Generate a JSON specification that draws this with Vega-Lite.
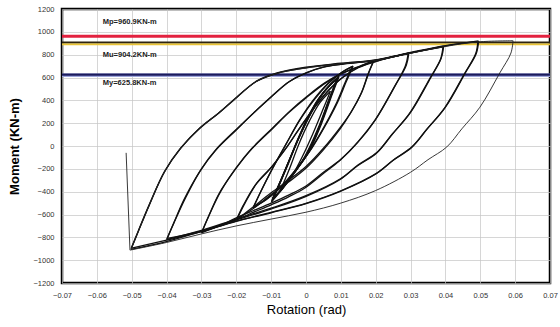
{
"$schema":"https://vega.github.io/schema/vega-lite/v6.json",
"autosize":{"type":"none"},
"padding":{"left":62,"top":9,"right":10,"bottom":44},
"width":488,"height":274,
"background":"white",
"config":{"font":"Liberation Sans","view":{"stroke":"#000","strokeWidth":2.5}},
"datasets":{
"curves":[
{"c":"c1a","x":-0.0075,"y":-400},{"c":"c1a","x":-0.005,"y":-220},{"c":"c1a","x":-0.002,"y":20},{"c":"c1a","x":0.001,"y":220},{"c":"c1a","x":0.004,"y":380},{"c":"c1a","x":0.007,"y":480},
{"c":"c1d","x":0.007,"y":480},{"c":"c1d","x":0.005,"y":330},{"c":"c1d","x":0.002,"y":110},{"c":"c1d","x":-0.001,"y":-90},{"c":"c1d","x":-0.004,"y":-260},{"c":"c1d","x":-0.0075,"y":-400},
{"c":"c2a","x":-0.0098,"y":-480},{"c":"c2a","x":-0.008,"y":-360},{"c":"c2a","x":-0.005,"y":-150},{"c":"c2a","x":-0.002,"y":80},{"c":"c2a","x":0.001,"y":280},{"c":"c2a","x":0.004,"y":430},{"c":"c2a","x":0.007,"y":540},{"c":"c2a","x":0.0095,"y":610},
{"c":"c2d","x":0.0095,"y":610},{"c":"c2d","x":0.0075,"y":450},{"c":"c2d","x":0.0045,"y":200},{"c":"c2d","x":0.001,"y":-40},{"c":"c2d","x":-0.003,"y":-220},{"c":"c2d","x":-0.0065,"y":-360},{"c":"c2d","x":-0.0098,"y":-480},
{"c":"c3a","x":-0.0097,"y":-470},{"c":"c3a","x":-0.0075,"y":-320},{"c":"c3a","x":-0.0045,"y":-100},{"c":"c3a","x":-0.0015,"y":110},{"c":"c3a","x":0.0015,"y":300},{"c":"c3a","x":0.0045,"y":450},{"c":"c3a","x":0.0072,"y":545},{"c":"c3a","x":0.0092,"y":600},
{"c":"c3d","x":0.0092,"y":600},{"c":"c3d","x":0.007,"y":430},{"c":"c3d","x":0.004,"y":180},{"c":"c3d","x":0.0005,"y":-60},{"c":"c3d","x":-0.0035,"y":-240},{"c":"c3d","x":-0.007,"y":-380},{"c":"c3d","x":-0.0097,"y":-470},
{"c":"c4a","x":-0.0099,"y":-490},{"c":"c4a","x":-0.0082,"y":-380},{"c":"c4a","x":-0.0055,"y":-180},{"c":"c4a","x":-0.0025,"y":50},{"c":"c4a","x":0.0005,"y":250},{"c":"c4a","x":0.0035,"y":410},{"c":"c4a","x":0.0065,"y":520},{"c":"c4a","x":0.009,"y":590},
{"c":"c4d","x":0.009,"y":590},{"c":"c4d","x":0.0068,"y":420},{"c":"c4d","x":0.0038,"y":170},{"c":"c4d","x":0,"y":-80},{"c":"c4d","x":-0.004,"y":-260},{"c":"c4d","x":-0.0072,"y":-390},{"c":"c4d","x":-0.0099,"y":-490},
{"c":"c16a","x":-0.0096,"y":-460},{"c":"c16a","x":-0.0078,"y":-340},{"c":"c16a","x":-0.005,"y":-140},{"c":"c16a","x":-0.002,"y":70},{"c":"c16a","x":0.001,"y":260},{"c":"c16a","x":0.004,"y":420},{"c":"c16a","x":0.0068,"y":530},{"c":"c16a","x":0.0088,"y":585},
{"c":"c16d","x":0.0088,"y":585},{"c":"c16d","x":0.0066,"y":410},{"c":"c16d","x":0.0034,"y":150},{"c":"c16d","x":-0.0003,"y":-90},{"c":"c16d","x":-0.0042,"y":-270},{"c":"c16d","x":-0.0074,"y":-400},{"c":"c16d","x":-0.0096,"y":-460},
{"c":"c17a","x":-0.0094,"y":-455},{"c":"c17a","x":-0.0072,"y":-300},{"c":"c17a","x":-0.0042,"y":-80},{"c":"c17a","x":-0.0012,"y":130},{"c":"c17a","x":0.0018,"y":310},{"c":"c17a","x":0.0048,"y":460},{"c":"c17a","x":0.0074,"y":550},{"c":"c17a","x":0.0093,"y":605},
{"c":"c17d","x":0.0093,"y":605},{"c":"c17d","x":0.0072,"y":440},{"c":"c17d","x":0.0042,"y":190},{"c":"c17d","x":0.0008,"y":-50},{"c":"c17d","x":-0.0032,"y":-230},{"c":"c17d","x":-0.0068,"y":-370},{"c":"c17d","x":-0.0094,"y":-455},
{"c":"c5a","x":-0.0152,"y":-543},{"c":"c5a","x":-0.013,"y":-400},{"c":"c5a","x":-0.01,"y":-220},{"c":"c5a","x":-0.006,"y":0},{"c":"c5a","x":-0.002,"y":220},{"c":"c5a","x":0.002,"y":400},{"c":"c5a","x":0.006,"y":540},{"c":"c5a","x":0.01,"y":640},{"c":"c5a","x":0.0135,"y":700},
{"c":"c5d","x":0.0135,"y":700},{"c":"c5d","x":0.0115,"y":560},{"c":"c5d","x":0.009,"y":380},{"c":"c5d","x":0.005,"y":150},{"c":"c5d","x":0.001,"y":-50},{"c":"c5d","x":-0.003,"y":-210},{"c":"c5d","x":-0.007,"y":-350},{"c":"c5d","x":-0.011,"y":-460},{"c":"c5d","x":-0.0152,"y":-543},
{"c":"c6a","x":-0.015,"y":-530},{"c":"c6a","x":-0.0125,"y":-370},{"c":"c6a","x":-0.0095,"y":-190},{"c":"c6a","x":-0.0055,"y":30},{"c":"c6a","x":-0.0015,"y":240},{"c":"c6a","x":0.0025,"y":410},{"c":"c6a","x":0.0065,"y":550},{"c":"c6a","x":0.0105,"y":650},{"c":"c6a","x":0.0132,"y":695},
{"c":"c6d","x":0.0132,"y":695},{"c":"c6d","x":0.011,"y":540},{"c":"c6d","x":0.0085,"y":360},{"c":"c6d","x":0.0045,"y":130},{"c":"c6d","x":0.0005,"y":-70},{"c":"c6d","x":-0.0035,"y":-230},{"c":"c6d","x":-0.0075,"y":-370},{"c":"c6d","x":-0.0115,"y":-470},{"c":"c6d","x":-0.015,"y":-530},
{"c":"c7a","x":-0.02,"y":-650},{"c":"c7a","x":-0.018,"y":-520},{"c":"c7a","x":-0.0145,"y":-340},{"c":"c7a","x":-0.0103,"y":-200},{"c":"c7a","x":-0.006,"y":-30},{"c":"c7a","x":-0.002,"y":150},{"c":"c7a","x":0.002,"y":320},{"c":"c7a","x":0.006,"y":470},{"c":"c7a","x":0.01,"y":590},{"c":"c7a","x":0.015,"y":690},{"c":"c7a","x":0.0195,"y":748},
{"c":"c7d","x":0.0195,"y":748},{"c":"c7d","x":0.018,"y":640},{"c":"c7d","x":0.016,"y":470},{"c":"c7d","x":0.013,"y":300},{"c":"c7d","x":0.01,"y":170},{"c":"c7d","x":0.005,"y":-20},{"c":"c7d","x":0,"y":-180},{"c":"c7d","x":-0.005,"y":-300},{"c":"c7d","x":-0.01,"y":-410},{"c":"c7d","x":-0.015,"y":-530},{"c":"c7d","x":-0.02,"y":-650},
{"c":"c8a","x":-0.0198,"y":-640},{"c":"c8a","x":-0.0175,"y":-500},{"c":"c8a","x":-0.014,"y":-320},{"c":"c8a","x":-0.0098,"y":-180},{"c":"c8a","x":-0.0055,"y":-10},{"c":"c8a","x":-0.0015,"y":170},{"c":"c8a","x":0.0025,"y":340},{"c":"c8a","x":0.0065,"y":490},{"c":"c8a","x":0.0105,"y":600},{"c":"c8a","x":0.015,"y":685},{"c":"c8a","x":0.0193,"y":740},
{"c":"c8d","x":0.0193,"y":740},{"c":"c8d","x":0.0178,"y":630},{"c":"c8d","x":0.0158,"y":460},{"c":"c8d","x":0.0128,"y":290},{"c":"c8d","x":0.0098,"y":150},{"c":"c8d","x":0.0048,"y":-40},{"c":"c8d","x":-0.0002,"y":-200},{"c":"c8d","x":-0.0052,"y":-320},{"c":"c8d","x":-0.0102,"y":-430},{"c":"c8d","x":-0.015,"y":-545},{"c":"c8d","x":-0.0198,"y":-640},
{"c":"c9a","x":-0.03,"y":-760},{"c":"c9a","x":-0.028,"y":-620},{"c":"c9a","x":-0.025,"y":-420},{"c":"c9a","x":-0.0204,"y":-210},{"c":"c9a","x":-0.016,"y":-40},{"c":"c9a","x":-0.01,"y":140},{"c":"c9a","x":-0.005,"y":290},{"c":"c9a","x":0,"y":420},{"c":"c9a","x":0.005,"y":540},{"c":"c9a","x":0.01,"y":630},{"c":"c9a","x":0.015,"y":690},{"c":"c9a","x":0.02,"y":740},{"c":"c9a","x":0.025,"y":780},{"c":"c9a","x":0.0295,"y":815},
{"c":"c9d","x":0.0295,"y":815},{"c":"c9d","x":0.0288,"y":710},{"c":"c9d","x":0.0257,"y":535},{"c":"c9d","x":0.02,"y":235},{"c":"c9d","x":0.015,"y":40},{"c":"c9d","x":0.01,"y":-116},{"c":"c9d","x":0.005,"y":-230},{"c":"c9d","x":0,"y":-350},{"c":"c9d","x":-0.005,"y":-430},{"c":"c9d","x":-0.01,"y":-500},{"c":"c9d","x":-0.015,"y":-565},{"c":"c9d","x":-0.02,"y":-630},{"c":"c9d","x":-0.025,"y":-700},{"c":"c9d","x":-0.03,"y":-760},
{"c":"c10a","x":-0.0298,"y":-750},{"c":"c10a","x":-0.0277,"y":-600},{"c":"c10a","x":-0.0245,"y":-400},{"c":"c10a","x":-0.02,"y":-190},{"c":"c10a","x":-0.0155,"y":-20},{"c":"c10a","x":-0.0095,"y":160},{"c":"c10a","x":-0.0045,"y":310},{"c":"c10a","x":0.0005,"y":440},{"c":"c10a","x":0.0055,"y":555},{"c":"c10a","x":0.0105,"y":640},{"c":"c10a","x":0.0155,"y":700},{"c":"c10a","x":0.0205,"y":745},{"c":"c10a","x":0.025,"y":785},{"c":"c10a","x":0.0293,"y":805},
{"c":"c10d","x":0.0293,"y":805},{"c":"c10d","x":0.0285,"y":700},{"c":"c10d","x":0.0254,"y":520},{"c":"c10d","x":0.0198,"y":225},{"c":"c10d","x":0.0148,"y":30},{"c":"c10d","x":0.0098,"y":-125},{"c":"c10d","x":0.0048,"y":-245},{"c":"c10d","x":-0.0002,"y":-365},{"c":"c10d","x":-0.005,"y":-445},{"c":"c10d","x":-0.01,"y":-515},{"c":"c10d","x":-0.015,"y":-580},{"c":"c10d","x":-0.02,"y":-645},{"c":"c10d","x":-0.025,"y":-705},{"c":"c10d","x":-0.0298,"y":-750},
{"c":"c11a","x":-0.04,"y":-820},{"c":"c11a","x":-0.038,"y":-680},{"c":"c11a","x":-0.035,"y":-470},{"c":"c11a","x":-0.0304,"y":-220},{"c":"c11a","x":-0.026,"y":-40},{"c":"c11a","x":-0.02,"y":140},{"c":"c11a","x":-0.015,"y":290},{"c":"c11a","x":-0.01,"y":430},{"c":"c11a","x":-0.005,"y":560},{"c":"c11a","x":0,"y":640},{"c":"c11a","x":0.005,"y":690},{"c":"c11a","x":0.01,"y":715},{"c":"c11a","x":0.02,"y":750},{"c":"c11a","x":0.03,"y":815},{"c":"c11a","x":0.0395,"y":875},
{"c":"c11d","x":0.0395,"y":875},{"c":"c11d","x":0.0388,"y":770},{"c":"c11d","x":0.0357,"y":595},{"c":"c11d","x":0.03,"y":295},{"c":"c11d","x":0.0248,"y":105},{"c":"c11d","x":0.0205,"y":-53},{"c":"c11d","x":0.015,"y":-165},{"c":"c11d","x":0.01,"y":-285},{"c":"c11d","x":0,"y":-435},{"c":"c11d","x":-0.01,"y":-545},{"c":"c11d","x":-0.02,"y":-640},{"c":"c11d","x":-0.03,"y":-740},{"c":"c11d","x":-0.04,"y":-820},
{"c":"c12a","x":-0.0398,"y":-810},{"c":"c12a","x":-0.0377,"y":-660},{"c":"c12a","x":-0.0345,"y":-450},{"c":"c12a","x":-0.03,"y":-200},{"c":"c12a","x":-0.0255,"y":-20},{"c":"c12a","x":-0.0195,"y":160},{"c":"c12a","x":-0.0145,"y":305},{"c":"c12a","x":-0.0095,"y":445},{"c":"c12a","x":-0.0045,"y":570},{"c":"c12a","x":0.0005,"y":645},{"c":"c12a","x":0.0055,"y":695},{"c":"c12a","x":0.0105,"y":718},{"c":"c12a","x":0.0205,"y":752},{"c":"c12a","x":0.0305,"y":818},{"c":"c12a","x":0.0393,"y":868},
{"c":"c12d","x":0.0393,"y":868},{"c":"c12d","x":0.0386,"y":760},{"c":"c12d","x":0.0354,"y":585},{"c":"c12d","x":0.0297,"y":285},{"c":"c12d","x":0.0245,"y":95},{"c":"c12d","x":0.0202,"y":-63},{"c":"c12d","x":0.0147,"y":-175},{"c":"c12d","x":0.0097,"y":-295},{"c":"c12d","x":-0.0003,"y":-445},{"c":"c12d","x":-0.0103,"y":-555},{"c":"c12d","x":-0.02,"y":-648},{"c":"c12d","x":-0.03,"y":-745},{"c":"c12d","x":-0.0398,"y":-810},
{"c":"c13a","x":-0.05,"y":-890},{"c":"c13a","x":-0.048,"y":-740},{"c":"c13a","x":-0.045,"y":-520},{"c":"c13a","x":-0.0405,"y":-220},{"c":"c13a","x":-0.036,"y":-20},{"c":"c13a","x":-0.0304,"y":160},{"c":"c13a","x":-0.025,"y":290},{"c":"c13a","x":-0.0209,"y":400},{"c":"c13a","x":-0.0141,"y":570},{"c":"c13a","x":-0.0083,"y":640},{"c":"c13a","x":0,"y":690},{"c":"c13a","x":0.01,"y":725},{"c":"c13a","x":0.02,"y":755},{"c":"c13a","x":0.03,"y":820},{"c":"c13a","x":0.04,"y":880},{"c":"c13a","x":0.0493,"y":915},
{"c":"c13d","x":0.0493,"y":915},{"c":"c13d","x":0.0487,"y":810},{"c":"c13d","x":0.0455,"y":635},{"c":"c13d","x":0.0398,"y":335},{"c":"c13d","x":0.0346,"y":145},{"c":"c13d","x":0.0303,"y":-13},{"c":"c13d","x":0.025,"y":-125},{"c":"c13d","x":0.02,"y":-245},{"c":"c13d","x":0.01,"y":-395},{"c":"c13d","x":0,"y":-505},{"c":"c13d","x":-0.01,"y":-585},{"c":"c13d","x":-0.02,"y":-660},{"c":"c13d","x":-0.03,"y":-750},{"c":"c13d","x":-0.04,"y":-825},{"c":"c13d","x":-0.05,"y":-895},
{"c":"c14a","x":-0.0502,"y":-900},{"c":"c14a","x":-0.0482,"y":-750},{"c":"c14a","x":-0.0452,"y":-530},{"c":"c14a","x":-0.0407,"y":-230},{"c":"c14a","x":-0.0362,"y":-30},{"c":"c14a","x":-0.0306,"y":150},{"c":"c14a","x":-0.0252,"y":285},{"c":"c14a","x":-0.021,"y":395},{"c":"c14a","x":-0.0143,"y":565},{"c":"c14a","x":-0.0085,"y":635},{"c":"c14a","x":0,"y":685},{"c":"c14a","x":0.01,"y":722},{"c":"c14a","x":0.02,"y":752},{"c":"c14a","x":0.03,"y":815},{"c":"c14a","x":0.04,"y":875},{"c":"c14a","x":0.0495,"y":920},
{"c":"c14d","x":0.0495,"y":920},{"c":"c14d","x":0.0489,"y":815},{"c":"c14d","x":0.0457,"y":640},{"c":"c14d","x":0.04,"y":340},{"c":"c14d","x":0.0348,"y":150},{"c":"c14d","x":0.0305,"y":-5},{"c":"c14d","x":0.0252,"y":-120},{"c":"c14d","x":0.0202,"y":-240},{"c":"c14d","x":0.0102,"y":-390},{"c":"c14d","x":0.0002,"y":-500},{"c":"c14d","x":-0.0098,"y":-580},{"c":"c14d","x":-0.0198,"y":-655},{"c":"c14d","x":-0.0298,"y":-745},{"c":"c14d","x":-0.0398,"y":-835},{"c":"c14d","x":-0.0502,"y":-905},
{"c":"c15a","x":-0.0502,"y":-905},{"c":"c15a","x":-0.0482,"y":-755},{"c":"c15a","x":-0.0452,"y":-535},{"c":"c15a","x":-0.041,"y":-250},{"c":"c15a","x":-0.0365,"y":-40},{"c":"c15a","x":-0.031,"y":145},{"c":"c15a","x":-0.0255,"y":280},{"c":"c15a","x":-0.0212,"y":390},{"c":"c15a","x":-0.0145,"y":560},{"c":"c15a","x":-0.0087,"y":632},{"c":"c15a","x":0,"y":683},{"c":"c15a","x":0.01,"y":720},{"c":"c15a","x":0.02,"y":750},{"c":"c15a","x":0.03,"y":812},{"c":"c15a","x":0.04,"y":872},{"c":"c15a","x":0.0495,"y":912},{"c":"c15a","x":0.0594,"y":922},
{"c":"c15d","x":0.0594,"y":922},{"c":"c15d","x":0.0588,"y":815},{"c":"c15d","x":0.0556,"y":640},{"c":"c15d","x":0.0499,"y":340},{"c":"c15d","x":0.0447,"y":150},{"c":"c15d","x":0.0404,"y":-8},{"c":"c15d","x":0.035,"y":-120},{"c":"c15d","x":0.03,"y":-230},{"c":"c15d","x":0.02,"y":-390},{"c":"c15d","x":0.01,"y":-500},{"c":"c15d","x":0,"y":-580},{"c":"c15d","x":-0.01,"y":-640},{"c":"c15d","x":-0.02,"y":-700},{"c":"c15d","x":-0.03,"y":-770},{"c":"c15d","x":-0.04,"y":-845},{"c":"c15d","x":-0.0505,"y":-912},
{"c":"c15f","x":-0.0505,"y":-912},{"c":"c15f","x":-0.0516,"y":-60}
],
"limits":[{"name":"Mp","m":960.9},{"name":"Mu","m":904.2},{"name":"My","m":625.8}],
"labels":[{"t":"Mp=960.9KN-m","x":-0.0583,"y":1085},{"t":"Mu=904.2KN-m","x":-0.0583,"y":797},{"t":"My=625.8KN-m","x":-0.0583,"y":552}]
},
"encoding":{
"x":{"field":"x","type":"quantitative","scale":{"domain":[-0.07,0.07],"nice":false,"zero":false},
"axis":{"title":"Rotation (rad)","values":[-0.07,-0.06,-0.05,-0.04,-0.03,-0.02,-0.01,0,0.01,0.02,0.03,0.04,0.05,0.06,0.07],"format":".2~f","grid":true,"gridColor":"#c4c4c4","gridWidth":0.7,"ticks":false,"domain":false,"labelFontSize":7.5,"labelColor":"#333","labelPadding":8,"labelFlush":false,"titleFontSize":13,"titleFontWeight":"normal","titleColor":"#000","titlePadding":5}},
"y":{"field":"y","type":"quantitative","scale":{"domain":[-1200,1200],"nice":false,"zero":false},
"axis":{"title":"Moment (KN-m)","values":[-1200,-1000,-800,-600,-400,-200,0,200,400,600,800,1000,1200],"format":"d","grid":true,"gridColor":"#c4c4c4","gridWidth":0.7,"ticks":false,"domain":false,"labelFontSize":7.5,"labelColor":"#333","labelPadding":8,"labelFlush":false,"titleFontSize":13,"titleFontWeight":"bold","titleColor":"#000","titlePadding":11}}
},
"layer":[
{"data":{"name":"limits"},"transform":[{"filter":"datum.name=='Mp'"}],"mark":{"type":"rule","color":"#e3213f","strokeWidth":3},"encoding":{"y":{"field":"m","type":"quantitative"},"x":null}},
{"data":{"name":"limits"},"transform":[{"filter":"datum.name=='Mu'"}],"mark":{"type":"rule","color":"#e9c437","strokeWidth":2,"yOffset":1.5},"encoding":{"y":{"field":"m","type":"quantitative"},"x":null}},
{"data":{"name":"limits"},"transform":[{"filter":"datum.name=='Mu'"}],"mark":{"type":"rule","color":"#2e2410","strokeWidth":1.6,"yOffset":-0.4},"encoding":{"y":{"field":"m","type":"quantitative"},"x":null}},
{"data":{"name":"limits"},"transform":[{"filter":"datum.name=='My'"}],"mark":{"type":"rule","color":"#9ea6dc","strokeWidth":3.5,"yOffset":0.6},"encoding":{"y":{"field":"m","type":"quantitative"},"x":null}},
{"data":{"name":"limits"},"transform":[{"filter":"datum.name=='My'"}],"mark":{"type":"rule","color":"#1b1b5e","strokeWidth":2.2},"encoding":{"y":{"field":"m","type":"quantitative"},"x":null}},
{"data":{"name":"curves"},"transform":[{"filter":"indexof(datum.c,'c15')<0"}],"mark":{"type":"line","color":"#111","strokeWidth":1.3,"interpolate":"catmull-rom"},"encoding":{"detail":{"field":"c"},"order":{"value":null}}},
{"data":{"name":"curves"},"transform":[{"filter":"indexof(datum.c,'c15')==0"}],"mark":{"type":"line","color":"#222","strokeWidth":0.9,"interpolate":"catmull-rom"},"encoding":{"detail":{"field":"c"},"order":{"value":null}}},
{"data":{"name":"labels"},"mark":{"type":"text","align":"left","baseline":"middle","fontSize":7.5,"fontWeight":"bold","color":"#222"},"encoding":{"text":{"field":"t"}}}
]
}
